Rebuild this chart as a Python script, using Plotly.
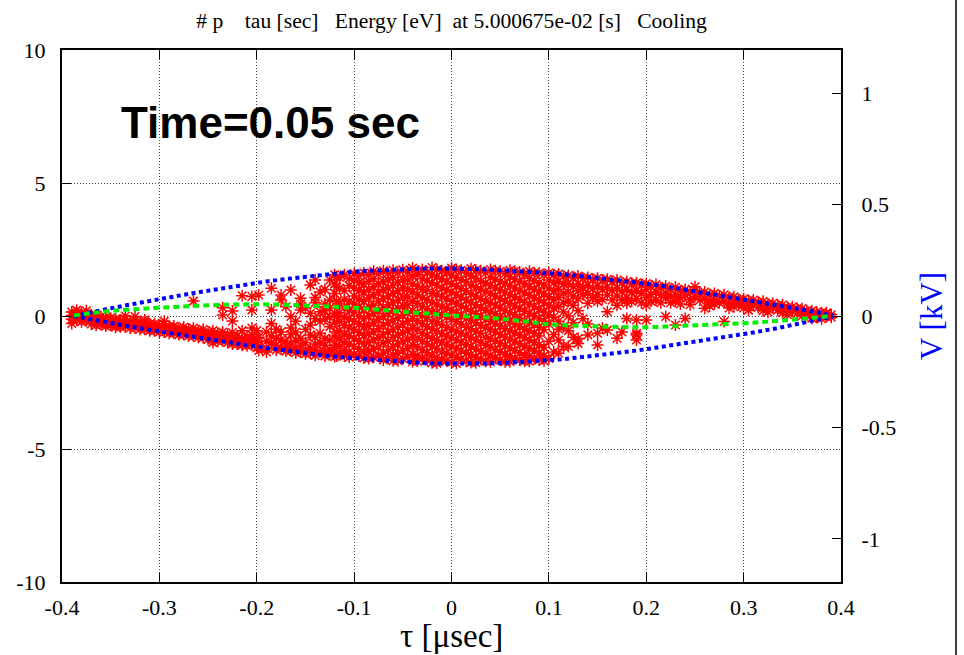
import plotly.graph_objects as go

# ---------------- data ----------------
x_ticks = [-0.4, -0.3, -0.2, -0.1, 0.0, 0.1, 0.2, 0.3, 0.4]
x_ticklabels = ["-0.4", "-0.3", "-0.2", "-0.1", "0", "0.1", "0.2", "0.3", "0.4"]
y_ticks = [-10, -5, 0, 5, 10]
y_ticklabels = ["-10", "-5", "0", "5", "10"]
y2_ticks = [-1, -0.5, 0, 0.5, 1]
y2_ticklabels = ["-1", "-0.5", "0", "0.5", "1"]

# separatrix (blue dotted), tau [usec] vs dE [eV]
sep_tau = [-0.388, -0.37, -0.35, -0.33, -0.31, -0.29, -0.27, -0.25, -0.23, -0.21,
           -0.19, -0.17, -0.15, -0.13, -0.11, -0.09, -0.07, -0.05, -0.03, -0.01,
           0.01, 0.03, 0.05, 0.07, 0.09, 0.11, 0.13, 0.15, 0.17, 0.19,
           0.21, 0.23, 0.25, 0.27, 0.29, 0.31, 0.33, 0.35, 0.37, 0.392]
sep_upper = [0.0, 0.15, 0.29, 0.43, 0.57, 0.70, 0.83, 0.95, 1.07, 1.19,
             1.30, 1.39, 1.48, 1.56, 1.63, 1.69, 1.73, 1.76, 1.78, 1.79,
             1.78, 1.76, 1.72, 1.68, 1.64, 1.59, 1.51, 1.43, 1.35, 1.27,
             1.17, 1.05, 0.93, 0.81, 0.69, 0.57, 0.44, 0.31, 0.18, 0.02]
sep_lower = [0.0, -0.13, -0.27, -0.40, -0.52, -0.64, -0.76, -0.88, -0.99, -1.10,
             -1.20, -1.30, -1.40, -1.49, -1.56, -1.62, -1.68, -1.73, -1.77, -1.79,
             -1.80, -1.79, -1.77, -1.73, -1.69, -1.64, -1.56, -1.48, -1.39, -1.30,
             -1.19, -1.08, -0.97, -0.85, -0.74, -0.62, -0.49, -0.35, -0.20, -0.02]

# green dashed curve
green_tau = [-0.388, -0.35, -0.3, -0.25, -0.2, -0.15, -0.1, -0.05, 0.0, 0.04,
             0.075, 0.1, 0.15, 0.2, 0.25, 0.3, 0.34, 0.39]
green_dE = [0.02, 0.19, 0.31, 0.40, 0.44, 0.39, 0.31, 0.16, 0.02, -0.07,
            -0.20, -0.31, -0.39, -0.42, -0.35, -0.27, -0.17, 0.0]

# particles (red asterisks): columns of (tau, [dE values])
tail_left = [
    (-0.390, [0.02, -0.12, 0.15, -0.28]),
    (-0.385, [0.05, -0.05, 0.22, -0.15, 0.10]),
    (-0.380, [-0.08, 0.12, -0.22]),
    (-0.375, [-0.02, -0.18, 0.08, 0.20]),
    (-0.370, [-0.12, 0.05, -0.30]),
    (-0.365, [-0.10, -0.25, 0.02, -0.35]),
    (-0.360, [-0.20, -0.02, -0.32]),
    (-0.355, [-0.15, -0.28, -0.05, -0.38]),
    (-0.350, [-0.22, -0.08, -0.35]),
    (-0.345, [-0.20, -0.35, -0.10, -0.42]),
    (-0.340, [-0.28, -0.15, -0.40]),
    (-0.335, [-0.25, -0.40, -0.12, 0.0]),
    (-0.330, [-0.32, -0.20, -0.45]),
    (-0.325, [-0.30, -0.45, -0.18, -0.02]),
    (-0.320, [-0.38, -0.25, -0.50]),
    (-0.315, [-0.35, -0.50, -0.22, -0.15]),
    (-0.310, [-0.42, -0.30, -0.55]),
    (-0.305, [-0.40, -0.55, -0.28]),
    (-0.300, [-0.48, -0.35, -0.60]),
    (-0.295, [-0.45, -0.60, -0.30, -0.20]),
    (-0.290, [-0.52, -0.40, -0.65]),
    (-0.285, [-0.50, -0.65, -0.38]),
    (-0.280, [-0.58, -0.45, -0.70]),
    (-0.275, [-0.55, -0.70, -0.42]),
    (-0.270, [-0.62, -0.50, -0.75]),
    (-0.265, [-0.60, -0.75, -0.45, 0.56]),
    (-0.260, [-0.68, -0.55, -0.80]),
    (-0.255, [-0.65, -0.82, -0.50]),
    (-0.250, [-0.75, -0.60, -0.88]),
    (-0.245, [-0.70, -0.88, -0.55, -1.0]),
    (-0.240, [-0.80, -0.65, -0.95]),
    (-0.235, [-0.75, -0.92, -0.60, 0.31, 0.04]),
    (-0.230, [-0.85, -0.70, -1.00]),
    (-0.225, [-0.80, -0.98, -0.62, -1.05, 0.19, -0.19]),
    (-0.220, [-0.90, -0.75, -1.05]),
    (-0.215, [-0.85, -1.02, -0.55, 0.76, -1.10]),
    (-0.210, [-0.95, -0.80, -1.12]),
    (-0.205, [-0.90, -1.08, -0.70, -0.45, 0.23, 0.73]),
    (-0.200, [-1.00, -0.85, -1.20, -0.55]),
    (-0.198, [0.79, -1.15, -0.80, -1.30]),
    (-0.190, [-0.95, -1.20, -0.60, -1.35]),
    (-0.185, [-0.28, 1.04, -1.00, -0.75, 0.23]),
    (-0.180, [-1.10, -0.85, -1.28, -0.50]),
    (-0.175, [-1.25, -0.90, -0.60, 0.60, 0.79]),
    (-0.170, [-1.15, -0.95, -1.32, 0.35]),
    (-0.165, [-0.02, -1.30, -1.05, -0.70, -0.45, 0.98]),
    (-0.160, [-1.20, -0.92, -1.38, -0.60, -0.20]),
    (-0.155, [0.23, -1.35, -1.10, -0.85, 0.67, 0.45]),
    (-0.150, [-1.25, -1.00, -1.42, -0.50, 0.30]),
    (-0.145, [-0.34, -0.71, -1.20, -1.40, 1.17, 0.10]),
    (-0.140, [-1.30, -1.05, -1.48, -0.80, 1.35, 0.70, -0.10, 0.50]),
    (-0.135, [-0.65, -1.00, -1.35, -0.20, 0.16, 0.90]),
    (-0.130, [-1.35, -1.10, -1.50, -0.85, 1.00, 0.45, -0.10, 0.20]),
    (-0.125, [1.35, 0.60, -0.40, -0.90, -1.25, -1.45, 0.30, -0.05]),
    (-0.120, [1.55, 1.20, 0.85, -0.25, -0.75, -1.20, -1.52, 0.10]),
    (-0.118, [1.48, 1.10, 0.0, -0.60, -1.10, -1.50, 0.55]),
]
core = [
    (-0.115, [1.45, 1.05, 0.45, 0.12, -0.20, -0.55, -0.85, -1.15, -1.40]),
    (-0.110, [1.55, 0.95, 0.62, 0.30, -0.05, -0.35, -0.70, -1.00, -1.30, -1.50]),
    (-0.105, [1.40, 1.15, 0.55, 0.20, -0.10, -0.45, -0.75, -1.05, -1.35, -1.55]),
    (-0.100, [1.60, 1.35, 1.05, 0.75, 0.45, 0.15, -0.20, -0.50, -0.85, -1.15, -1.45]),
    (-0.095, [1.50, 1.25, 0.95, 0.62, 0.32, 0.0, -0.30, -0.62, -0.95, -1.25, -1.50]),
    (-0.090, [1.62, 1.20, 0.90, 0.55, 0.25, -0.10, -0.40, -0.72, -1.05, -1.35, -1.58]),
    (-0.085, [1.55, 1.30, 0.98, 0.68, 0.35, 0.0, -0.38, -0.68, -1.00, -1.32, -1.60]),
    (-0.080, [1.68, 1.40, 1.10, 0.80, 0.40, 0.08, -0.25, -0.60, -0.90, -1.25, -1.55]),
    (-0.075, [1.58, 1.22, 0.88, 0.55, 0.20, -0.12, -0.48, -0.82, -1.15, -1.50]),
    (-0.070, [1.70, 1.30, 1.00, 0.65, 0.30, 0.0, -0.35, -0.70, -1.00, -1.40, -1.65]),
    (-0.065, [1.60, 1.35, 1.05, 0.75, 0.42, 0.10, -0.25, -0.60, -0.95, -1.28, -1.58]),
    (-0.060, [1.72, 1.45, 1.15, 0.85, 0.50, 0.20, -0.15, -0.50, -0.80, -1.15, -1.45, -1.68]),
    (-0.055, [1.62, 1.28, 0.95, 0.60, 0.28, -0.08, -0.42, -0.72, -1.05, -1.40, -1.68]),
    (-0.050, [1.74, 1.35, 1.05, 0.70, 0.38, 0.05, -0.30, -0.62, -0.95, -1.30, -1.60]),
    (-0.045, [1.65, 1.35, 1.02, 0.72, 0.40, 0.10, -0.20, -0.55, -0.90, -1.22, -1.55]),
    (-0.040, [1.80, 1.50, 1.20, 0.90, 0.55, 0.20, -0.10, -0.45, -0.80, -1.10, -1.45, -1.72]),
    (-0.035, [1.68, 1.55, 1.12, 0.80, 0.48, 0.12, -0.18, -0.50, -0.82, -1.15, -1.48, -1.70]),
    (-0.030, [1.75, 1.40, 1.00, 0.68, 0.35, 0.0, -0.30, -0.65, -0.95, -1.28, -1.60]),
    (-0.025, [1.65, 1.32, 1.00, 0.62, 0.28, -0.05, -0.40, -0.75, -1.05, -1.38, -1.65]),
    (-0.020, [1.82, 1.55, 1.25, 0.85, 0.50, 0.15, -0.20, -0.50, -0.85, -1.15, -1.50, -1.76]),
    (-0.015, [1.75, 1.48, 1.15, 0.82, 0.45, 0.12, -0.22, -0.55, -0.90, -1.22, -1.55, -1.78]),
    (-0.010, [1.70, 1.40, 1.05, 0.72, 0.35, 0.05, -0.35, -0.68, -1.00, -1.35, -1.65]),
    (-0.005, [1.65, 1.30, 0.98, 0.65, 0.30, -0.05, -0.42, -0.75, -1.08, -1.40, -1.68]),
    (0.000, [1.80, 1.52, 1.20, 0.90, 0.55, 0.22, -0.12, -0.50, -0.82, -1.15, -1.48, -1.75]),
    (0.005, [1.75, 1.45, 1.12, 0.80, 0.45, 0.12, -0.22, -0.58, -0.90, -1.22, -1.55, -1.78]),
    (0.010, [1.72, 1.35, 1.02, 0.70, 0.38, 0.02, -0.30, -0.65, -1.00, -1.30, -1.62]),
    (0.015, [1.62, 1.28, 0.95, 0.60, 0.28, -0.10, -0.42, -0.75, -1.08, -1.40, -1.70]),
    (0.020, [1.78, 1.50, 1.15, 0.82, 0.50, 0.18, -0.15, -0.48, -0.80, -1.15, -1.45, -1.75]),
    (0.025, [1.72, 1.42, 1.10, 0.75, 0.42, 0.08, -0.25, -0.58, -0.90, -1.25, -1.55, -1.76]),
    (0.030, [1.70, 1.30, 1.00, 0.65, 0.32, 0.0, -0.35, -0.65, -0.98, -1.32, -1.62]),
    (0.035, [1.62, 1.25, 0.92, 0.55, 0.22, -0.12, -0.45, -0.80, -1.10, -1.42, -1.70]),
    (0.040, [1.75, 1.45, 1.15, 0.85, 0.50, 0.15, -0.20, -0.50, -0.85, -1.15, -1.48, -1.72]),
    (0.045, [1.70, 1.38, 1.05, 0.75, 0.40, 0.08, -0.28, -0.60, -0.95, -1.28, -1.58]),
    (0.050, [1.68, 1.30, 0.98, 0.65, 0.30, -0.05, -0.38, -0.70, -1.02, -1.35, -1.65]),
    (0.055, [1.60, 1.22, 0.88, 0.55, 0.20, -0.15, -0.48, -0.80, -1.12, -1.45, -1.72]),
    (0.060, [1.72, 1.48, 1.15, 0.80, 0.48, 0.12, -0.20, -0.55, -0.88, -1.20, -1.50, -1.72]),
    (0.065, [1.68, 1.38, 1.05, 0.72, 0.38, 0.05, -0.30, -0.62, -0.95, -1.30, -1.60]),
    (0.070, [1.65, 1.30, 0.95, 0.62, 0.28, -0.08, -0.40, -0.72, -1.05, -1.38, -1.65]),
    (0.075, [1.55, 1.22, 0.88, 0.52, 0.18, -0.18, -0.50, -0.82, -1.15, -1.48, -1.70]),
    (0.080, [1.68, 1.42, 1.10, 0.78, 0.45, 0.10, -0.25, -0.55, -0.90, -1.20, -1.50, -1.70]),
    (0.085, [1.62, 1.32, 1.00, 0.68, 0.35, 0.0, -0.32, -0.65, -1.00, -1.32, -1.60]),
    (0.090, [1.62, 1.25, 0.92, 0.60, 0.25, -0.10, -0.42, -0.75, -1.08, -1.40, -1.65]),
    (0.095, [1.55, 1.18, 0.85, 0.50, 0.15, -0.20, -0.52, -1.18, -1.50, -1.68]),
    (0.100, [1.62, 1.35, 1.05, 0.72, 0.40, 0.05, -0.30, -0.95, -1.60]),
    (0.105, [1.55, 1.25, 0.95, 0.62, 0.30, -0.05, -0.70, -1.35]),
]
tail_right = [
    (0.110, [1.58, 1.30, 1.00, 0.70, 0.35, -0.20, -0.90, -1.40, -0.50]),
    (0.115, [1.50, 1.20, 0.85, 0.50, 0.15, -0.40, -1.15]),
    (0.120, [1.52, 1.22, 0.90, 0.55, -0.55, -1.15, 0.00]),
    (0.125, [1.45, 1.10, 0.75, 0.40, -0.25, -0.80]),
    (0.130, [1.50, 1.20, 0.95, 0.65, 0.20, -0.85, -1.03]),
    (0.135, [1.42, 1.08, 0.80, -0.10]),
    (0.140, [1.45, 1.15, 0.85, 0.48, -0.71, -0.30]),
    (0.145, [1.38, 1.02, 0.70]),
    (0.150, [1.42, 1.12, 0.80, 0.55, -1.09, -0.65]),
    (0.155, [1.35, 1.00, 0.62, -0.45]),
    (0.160, [1.38, 1.08, 0.79, 0.16, -0.53]),
    (0.165, [1.30, 0.95, 0.60]),
    (0.170, [1.35, 1.05, 0.75, 0.40, -0.84]),
    (0.175, [1.25, 0.92, 0.60, -0.60]),
    (0.180, [1.30, 1.00, 0.70, 0.48, -0.09]),
    (0.185, [1.22, 0.88, 0.55]),
    (0.190, [1.25, 0.95, 0.65, -0.65, -0.15, -0.71, -0.90]),
    (0.195, [1.18, 0.85, 0.50]),
    (0.200, [1.22, 1.00, 0.70, 0.41, -0.15]),
    (0.205, [1.12, 0.82, 0.55]),
    (0.210, [1.18, 0.90, 0.60]),
    (0.215, [1.05, 0.78, 0.50]),
    (0.220, [1.12, 0.85, 0.67, -0.02]),
    (0.225, [1.00, 0.72, 0.50]),
    (0.230, [1.08, 0.80, 0.55, -0.34]),
    (0.235, [0.95, 0.68, 0.45]),
    (0.240, [1.00, 0.78, -0.09]),
    (0.245, [0.90, 0.62, 0.42]),
    (0.250, [0.95, 0.72, 1.10]),
    (0.255, [0.85, 0.60]),
    (0.260, [0.90, 0.65, 0.29]),
    (0.265, [0.80, 0.55, 0.38]),
    (0.270, [0.85, 0.60, 0.45]),
    (0.275, [0.75, 0.50]),
    (0.280, [0.80, 0.55, -0.21]),
    (0.285, [0.70, 0.45, 0.30]),
    (0.290, [0.72, 0.50, 0.35]),
    (0.295, [0.62, 0.42]),
    (0.300, [0.65, 0.45, 0.30]),
    (0.305, [0.58, 0.38, 0.22]),
    (0.310, [0.60, 0.40]),
    (0.315, [0.52, 0.32]),
    (0.320, [0.55, 0.35, 0.20]),
    (0.325, [0.45, 0.28, 0.15]),
    (0.330, [0.48, 0.30]),
    (0.335, [0.40, 0.22]),
    (0.340, [0.42, 0.25, 0.12]),
    (0.345, [0.32, 0.15, 0.05]),
    (0.350, [0.35, 0.18]),
    (0.355, [0.28, 0.10]),
    (0.360, [0.28, 0.12, 0.0]),
    (0.365, [0.20, 0.05]),
    (0.370, [0.20, 0.05, -0.08]),
    (0.375, [0.15, 0.02, -0.05]),
    (0.380, [0.12, 0.0, -0.10]),
    (0.385, [0.08, -0.02, 0.12]),
    (0.390, [0.05, -0.05]),
]

title_text = "# p\u00a0\u00a0\u00a0\u00a0tau [sec]\u00a0\u00a0\u00a0Energy [eV]\u00a0\u00a0at 5.000675e-02 [s]\u00a0\u00a0\u00a0Cooling"
time_label = "Time=0.05 sec"

# ---------------- build ----------------
p_tau, p_dE = [], []
for cols in (tail_left, core, tail_right):
    for t, vals in cols:
        for v in vals:
            p_tau.append(t)
            p_dE.append(v)

fig = go.Figure()
fig.add_trace(go.Scatter(
    x=p_tau, y=p_dE, mode="markers",
    marker=dict(symbol="asterisk-open", size=10, color="#ff0000",
                line=dict(color="#ff0000", width=1.5)),
    showlegend=False, hoverinfo="skip"))
fig.add_trace(go.Scatter(
    x=sep_tau, y=sep_upper, mode="lines", line=dict(color="#0000ff", width=4, dash="4px,3.5px"),
    showlegend=False))
fig.add_trace(go.Scatter(
    x=sep_tau, y=sep_lower, mode="lines", line=dict(color="#0000ff", width=4, dash="4px,3.5px"),
    showlegend=False))
fig.add_trace(go.Scatter(
    x=green_tau, y=green_dE, mode="lines", line=dict(color="#00ee00", width=4, dash="6px,4px", shape="spline"),
    showlegend=False))
fig.add_trace(go.Scatter(x=[None], y=[None], yaxis="y2", showlegend=False, hoverinfo="skip"))

serif = "Liberation Serif"
L, R, T, B = 62, 123, 50, 73
W, H = 964, 655
pw, ph = W - L - R, H - T - B
y_bottom_px = T + ph  # 582


def py(ypix):
    return (y_bottom_px - ypix) / ph


def px(xpix):
    return (xpix - L) / pw


tickfont = dict(family=serif, size=22, color="black")

fig.update_layout(
    width=W, height=H,
    margin=dict(l=L, r=R, t=T, b=B, pad=0),
    paper_bgcolor="white", plot_bgcolor="white",
    font=dict(family=serif, size=22, color="black"),
    title=dict(text=title_text, x=(L + pw / 2) / W, xanchor="center",
               y=1 - 20 / H, yanchor="middle", font=dict(family=serif, size=21.6, color="black")),
    xaxis=dict(range=[-0.4, 0.4], tickvals=x_ticks, ticktext=x_ticklabels, tickfont=tickfont,
               ticks="inside", ticklen=9, tickwidth=1, tickcolor="black",
               showline=True, linecolor="black", linewidth=2, mirror="ticks",
               showgrid=True, gridcolor="#444", griddash="1px,2px", gridwidth=1,
               zeroline=False, ticklabelstandoff=5),
    yaxis=dict(range=[-10, 10], tickvals=y_ticks, ticktext=y_ticklabels, tickfont=tickfont,
               ticks="inside", ticklen=9, tickwidth=1, tickcolor="black",
               showline=True, linecolor="black", linewidth=2, mirror=False,
               showgrid=True, gridcolor="#444", griddash="1px,2px", gridwidth=1,
               zeroline=False, ticklabelstandoff=10),
    yaxis2=dict(range=[-1.193, 1.193], tickvals=y2_ticks, ticktext=y2_ticklabels, tickfont=tickfont,
                overlaying="y", side="right", anchor="x",
                ticks="inside", ticklen=9, tickwidth=1, tickcolor="black",
                showline=True, linecolor="black", linewidth=2,
                showgrid=False, zeroline=False, ticklabelstandoff=14),
)

fig.add_annotation(text=time_label, xref="paper", yref="paper",
                   x=px(270.5), y=py(123), xanchor="center", yanchor="middle",
                   showarrow=False, font=dict(family="Liberation Sans", size=44, color="black",
                                              weight="bold"))
fig.add_annotation(text="\u03c4 [\u03bcsec]", xref="paper", yref="paper",
                   x=0.5, y=py(636), xanchor="center", yanchor="middle",
                   showarrow=False, font=dict(family=serif, size=33, color="black"))
fig.add_annotation(text="V [kV]", xref="paper", yref="paper", textangle=-90,
                   x=px(931), y=0.5, xanchor="center", yanchor="middle",
                   showarrow=False, font=dict(family=serif, size=31, color="#0000ff"))
fig.add_annotation(text="\u0394E [eV]", xref="paper", yref="paper", textangle=-90,
                   x=px(-22), y=py(292), xanchor="center", yanchor="middle",
                   showarrow=False, font=dict(family=serif, size=30, color="#ff0000"))
fig.add_shape(type="line", xref="paper", yref="paper",
              x0=px(956), x1=px(956), y0=py(655), y1=py(0),
              line=dict(color="black", width=1.5))

fig.write_html("out.html")
